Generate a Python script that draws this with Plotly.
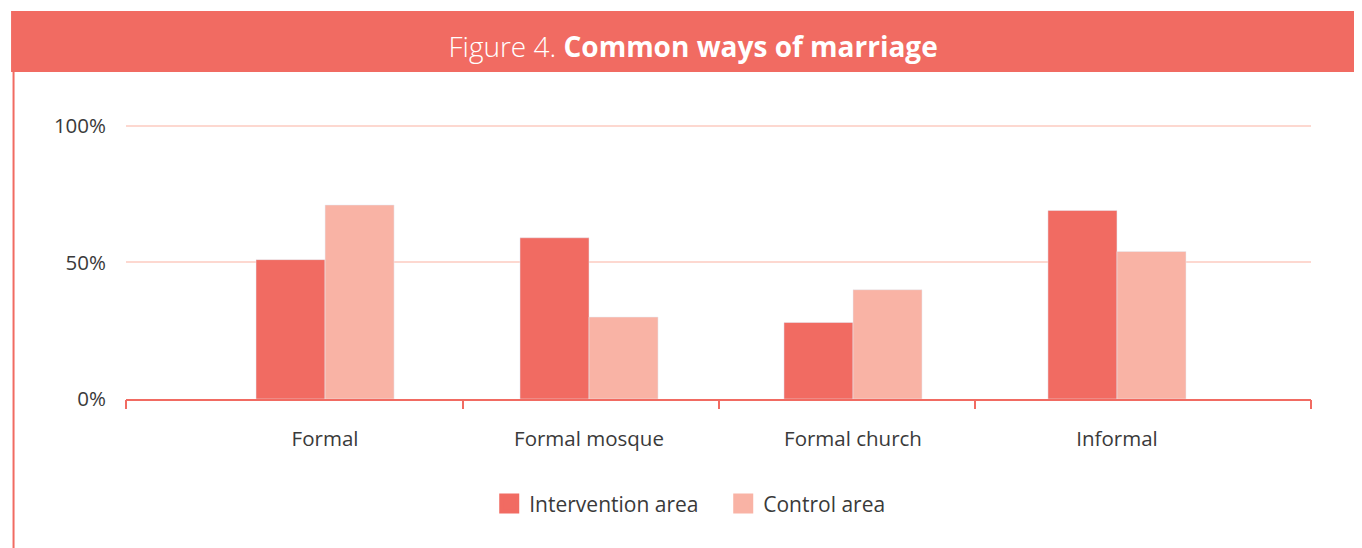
import plotly.graph_objects as go

# Données
categories = ["Formal", "Formal mosque", "Formal church", "Informal"]
intervention = [51, 59, 28, 69]
control = [71, 30, 40, 54]
y_ticks = [0, 50, 100]
y_tick_labels = ["0%", "50%", "100%"]

RED = "#F16B62"
PINK = "#F9B3A5"
GRID = "#FDD8D0"

pos = list(range(len(categories)))
x_range = [-0.754, 3.735]

fig = go.Figure()
fig.add_trace(go.Bar(x=pos, y=intervention, name="Intervention area",
                     marker_color=RED, showlegend=False))
fig.add_trace(go.Bar(x=pos, y=control, name="Control area",
                     marker_color=PINK, showlegend=False))
# entrées de légende (carrés plus grands que ceux des barres)
for name, col in [("Intervention area", RED), ("Control area", PINK)]:
    fig.add_trace(go.Scatter(x=[None], y=[None], mode="markers", name=name,
                             marker=dict(symbol="square", size=16, color=col,
                                         line=dict(color=col, width=4))))
# axe invisible pour les petites graduations entre catégories
fig.add_trace(go.Scatter(x=[0], y=[0], xaxis="x2", mode="markers",
                         marker_opacity=0, showlegend=False, hoverinfo="skip"))

fig.update_layout(
    width=1354, height=540,
    margin=dict(l=118, r=51, t=115, b=149),
    paper_bgcolor="white", plot_bgcolor="white",
    barmode="group", bargap=0.477, bargroupgap=0,
    font=dict(family="Open Sans", size=20.5, color="#3a3a3a"),
    title=dict(
        text="<span style='font-weight:300'>Figure 4. </span><b>Common ways of marriage</b>",
        x=0.506, xanchor="center", y=0.928, yanchor="middle", yref="container",
        font=dict(family="Open Sans", size=28, color="white", weight=300),
    ),
    xaxis=dict(range=x_range, tickvals=pos, ticktext=categories, ticks="",
               showline=True, linecolor=RED, linewidth=2, showgrid=False,
               zeroline=False, ticklabelstandoff=20, fixedrange=True),
    xaxis2=dict(range=x_range, overlaying="x", side="bottom", anchor="y",
                tickvals=[-0.754, 0.523, 1.492, 2.462, 3.735], showticklabels=False,
                ticks="outside", ticklen=9, tickwidth=2, tickcolor=RED,
                showgrid=False, zeroline=False, showline=False),
    yaxis=dict(range=[0, 101], tickvals=y_ticks, ticktext=y_tick_labels,
               showgrid=True, gridcolor=GRID, gridwidth=2, zeroline=False,
               showline=False, ticklabelstandoff=19),
    legend=dict(orientation="h", x=0.504, xanchor="center", y=-0.380, yanchor="middle",
                font=dict(size=21), itemwidth=30, traceorder="normal",
                entrywidth=189, entrywidthmode="pixels"),
)

# Bandeau du titre et bordure gauche
fig.add_shape(type="rect", xref="paper", yref="paper",
              x0=-0.0970, x1=1.05, y0=1.185, y1=1.406,
              fillcolor=RED, line_width=0, layer="below")
fig.add_shape(type="line", xref="paper", yref="paper",
              x0=-0.0949, x1=-0.0949, y0=1.185, y1=-0.56,
              line=dict(color=RED, width=2))

fig.write_html("out.html")
